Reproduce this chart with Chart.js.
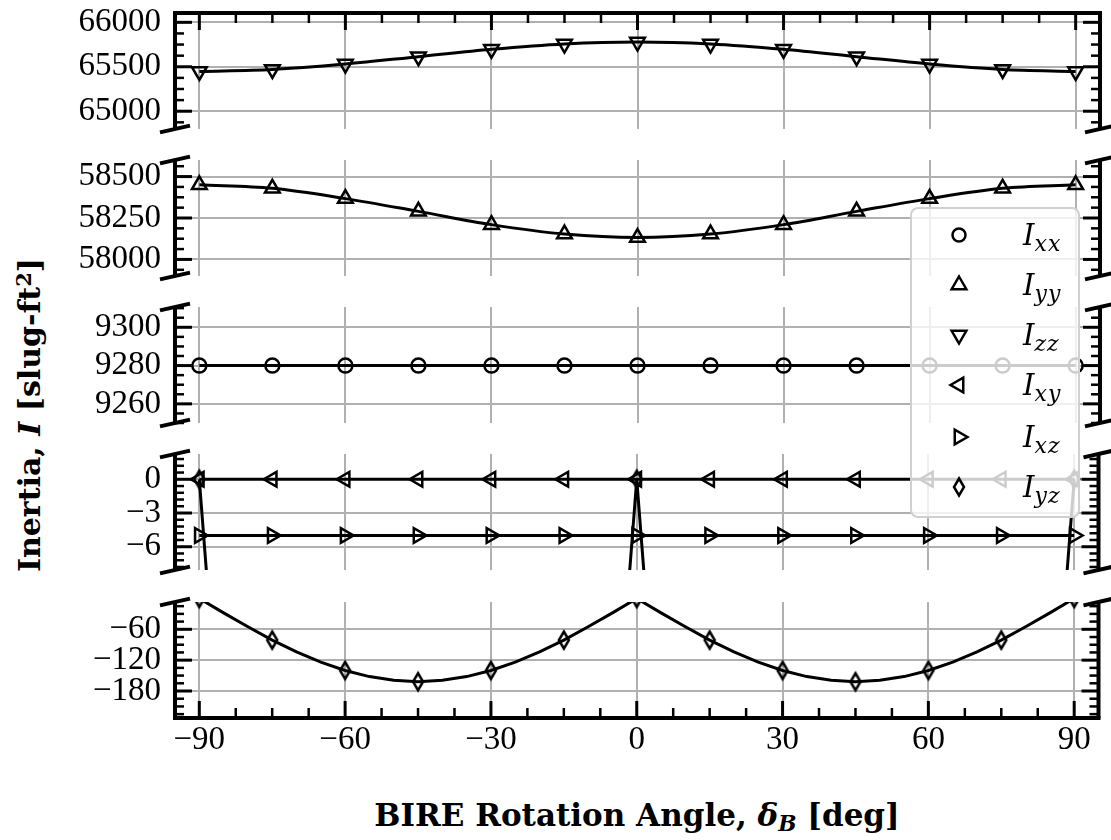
<!DOCTYPE html>
<html>
<head>
<meta charset="utf-8">
<title>Inertia vs BIRE rotation angle</title>
<script src="https://cdn.jsdelivr.net/npm/chart.js@4.4.1/dist/chart.umd.min.js"></script>
<style>
  html, body { margin: 0; padding: 0; background: #fff; }
  #fig { position: relative; width: 1111px; height: 840px; overflow: hidden; background: #fff; }
  #fig canvas { position: absolute; left: 0; }
  .axtitle { position: absolute; font-family: "DejaVu Serif", serif; font-weight: bold; font-size: 31px; white-space: nowrap; color: #000; line-height: 1; }
  #xtitle { left: 637px; top: 815px; transform: translate(-50%, -50%); }
  #ytitle { left: 30px; top: 415px; font-size: 30px; transform: translate(-50%, -50%) rotate(-90deg); }
  .axtitle sub { font-size: 0.7em; vertical-align: -0.25em; line-height: 0; }
  .axtitle sup { font-size: 0.7em; vertical-align: 0.45em; line-height: 0; }
  #legend { position: absolute; left: 910px; top: 207px; width: 170px; height: 311px; box-sizing: border-box;
            border: 2px solid #d0d0d0; border-radius: 8px; background: rgba(255,255,255,0.8); z-index: 10; }
  .lrow { position: absolute; left: 0; width: 100%; height: 40px; }
  .lrow svg { position: absolute; left: 33px; top: 6px; }
  .lrow .lab { position: absolute; left: 111px; top: 0; line-height: 40px; font-family: "DejaVu Serif", serif;
               font-style: italic; font-size: 29px; white-space: nowrap; color: #000; }
  .lab sub { font-size: 22px; vertical-align: -6px; line-height: 0; letter-spacing: 1px; }
</style>
</head>
<body>
<div id="fig">
  <div id="legend"></div>
  <div class="axtitle" id="xtitle">BIRE Rotation Angle, <i>&delta;<sub>B</sub></i> [deg]</div>
  <div class="axtitle" id="ytitle">Inertia, <i>I</i> [slug-ft<sup>2</sup>]</div>
</div>
<script>
// valeurs
const angles = [-90, -75, -60, -45, -30, -15, 0, 15, 30, 45, 60, 75, 90];
const Ixx = [9280, 9280, 9280, 9280, 9280, 9280, 9280, 9280, 9280, 9280, 9280, 9280, 9280];
const Iyy = [58450, 58429, 58367, 58290, 58210, 58153, 58132, 58153, 58210, 58290, 58367, 58429, 58450];
const Izz = [65448, 65470, 65531, 65613, 65696, 65756, 65778, 65756, 65696, 65613, 65531, 65470, 65448];
const Ixy = [0, 0, 0, 0, 0, 0, 0, 0, 0, 0, 0, 0, 0];
const Ixz = [-5, -5, -5, -5, -5, -5, -5, -5, -5, -5, -5, -5, -5];
const Iyz = [0, -81, -140, -162, -140, -81, 0, -81, -140, -162, -140, -81, 0];

// courbe Iyz plus fine (la ligne a des pointes a 0 et +-90)
const anglesFine = [-90, -85, -80, -75, -70, -65, -60, -55, -50, -45, -40, -35, -30, -25, -20, -15, -10, -5, 0,
                    5, 10, 15, 20, 25, 30, 35, 40, 45, 50, 55, 60, 65, 70, 75, 80, 85, 90];
const IyzFine = [0, -28, -55, -81, -104, -124, -140, -152, -159, -162, -159, -152, -140, -124, -104, -81, -55, -28, 0,
                 -28, -55, -81, -104, -124, -140, -152, -159, -162, -159, -152, -140, -124, -104, -81, -55, -28, 0];

const legendSubs = ['xx', 'yy', 'zz', 'xy', 'xz', 'yz'];

// series visibles dans chaque panneau (de haut en bas)
const panelSeries = [['Izz'], ['Iyy'], ['Ixx'], ['Ixy', 'Ixz', 'Iyz line', 'Iyz'], ['Iyz line', 'Iyz']];

// axes
const xTicks = [-90, -60, -30, 0, 30, 60, 90];
const yTicksPanels = [
  [65000, 65500, 66000],
  [58000, 58250, 58500],
  [9260, 9280, 9300],
  [-6, -3, 0],
  [-180, -120, -60]
];
const yMins = [64800, 57900, 9250, -8.07, -232.5];
const yMaxs = [66105, 58600, 9310.6, 2.25, -6.9];
const yMinorSteps = [125, 62.5, 5, 0.6, 15];
const xMinorStep = 7.5;

const W = 1111, LEFT = 175, RIGHT = 1100, PANEL_H = 116;
const panelTops = [13, 160, 307, 454, 602];
const GRID = '#b0b0b0';
const TICK_FONT = { family: "'Liberation Serif', serif", size: 33 };

const fmt = v => (v < 0 ? '\u2212' + Math.abs(v) : String(v));
const pairs = (xs, ys) => xs.map((x, i) => ({ x: x, y: ys[i] }));

function minorValues(min, max, step, majors) {
  const out = [];
  for (let k = Math.ceil(min / step - 1e-9); k * step <= max + 1e-9; k++) {
    const v = k * step;
    if (!majors.some(m => Math.abs(m - v) < step * 1e-3)) out.push(v);
  }
  return out;
}

function seg(ctx, x1, y1, x2, y2) {
  ctx.beginPath();
  ctx.moveTo(x1, y1);
  ctx.lineTo(x2, y2);
  ctx.stroke();
}

function makeDiamond() {
  const c = document.createElement('canvas');
  c.width = 16; c.height = 28;
  const g = c.getContext('2d');
  g.strokeStyle = '#000';
  g.lineWidth = 2.5;
  g.beginPath();
  g.moveTo(8, 5.5); g.lineTo(13, 14); g.lineTo(8, 22.5); g.lineTo(3, 14);
  g.closePath();
  g.stroke();
  return c;
}
const diamondImg = makeDiamond();

function buildDatasets(k) {
  const base = {
    borderColor: '#000', borderWidth: 3, pointBorderColor: '#000',
    pointBackgroundColor: 'rgba(0,0,0,0)', pointBorderWidth: 2.5, clip: 0,
    cubicInterpolationMode: 'monotone'
  };
  const all = [
    { ...base, label: 'Iyz', data: pairs(angles, Iyz), showLine: false, pointStyle: diamondImg, pointRadius: 10 },
    { ...base, label: 'Iyz line', data: pairs(anglesFine, IyzFine), pointRadius: 0, cubicInterpolationMode: 'default', tension: 0 },
    { ...base, label: 'Ixx', data: pairs(angles, Ixx), pointStyle: 'circle', pointRadius: 7 },
    { ...base, label: 'Iyy', data: pairs(angles, Iyy), pointStyle: 'triangle', pointRadius: 8.5, pointRotation: 0 },
    { ...base, label: 'Izz', data: pairs(angles, Izz), pointStyle: 'triangle', pointRadius: 8.5, pointRotation: 180 },
    { ...base, label: 'Ixy', data: pairs(angles, Ixy), pointStyle: 'triangle', pointRadius: 8.5, pointRotation: -90 },
    { ...base, label: 'Ixz', data: pairs(angles, Ixz), pointStyle: 'triangle', pointRadius: 8.5, pointRotation: 90 }
  ];
  return all.filter(d => panelSeries[k].includes(d.label));
}

// cadre, graduations et marques de coupure
function framePlugin(k, last) {
  return {
    id: 'frame' + k,
    afterDraw(chart) {
      const ctx = chart.ctx, a = chart.chartArea;
      const xs = chart.scales.x, ys = chart.scales.y;
      ctx.save();
      ctx.strokeStyle = '#000';
      ctx.lineCap = 'butt';

      ctx.lineWidth = 4;
      seg(ctx, a.left, a.top, a.left, a.bottom);
      seg(ctx, a.right, a.top, a.right, a.bottom);
      if (k === 0) seg(ctx, a.left - 2, a.top, a.right + 2, a.top);
      if (last) seg(ctx, a.left - 2, a.bottom, a.right + 2, a.bottom);

      const majY = yTicksPanels[k];
      ctx.lineWidth = 3;
      majY.forEach(v => {
        const p = ys.getPixelForValue(v);
        seg(ctx, a.left, p, a.left + 17, p);
        seg(ctx, a.right - 17, p, a.right, p);
      });
      ctx.lineWidth = 2.5;
      minorValues(yMins[k], yMaxs[k], yMinorSteps[k], majY).forEach(v => {
        const p = ys.getPixelForValue(v);
        seg(ctx, a.left, p, a.left + 9, p);
        seg(ctx, a.right - 9, p, a.right, p);
      });

      if (k === 0 || last) {
        const y0 = k === 0 ? a.top : a.bottom;
        const dir = k === 0 ? 1 : -1;
        ctx.lineWidth = 3;
        xTicks.forEach(v => {
          const p = xs.getPixelForValue(v);
          seg(ctx, p, y0, p, y0 + dir * 17);
        });
        ctx.lineWidth = 2.5;
        minorValues(xs.min, xs.max, xMinorStep, xTicks).forEach(v => {
          const p = xs.getPixelForValue(v);
          seg(ctx, p, y0, p, y0 + dir * 10);
        });
      }

      ctx.lineWidth = 4;
      [a.left, a.right].forEach(X => {
        if (k > 0) seg(ctx, X - 15, a.top + 3.4, X + 15, a.top - 3.4);
        if (!last) seg(ctx, X - 15, a.bottom + 3.4, X + 15, a.bottom - 3.4);
      });
      ctx.restore();
    }
  };
}

const fig = document.getElementById('fig');
panelTops.forEach((top, k) => {
  const last = k === panelTops.length - 1;
  const mTop = 13, mBot = last ? 80 : 13;
  const cv = document.createElement('canvas');
  cv.width = W;
  cv.height = PANEL_H + mTop + mBot;
  cv.style.width = W + 'px';
  cv.style.height = cv.height + 'px';
  cv.style.top = (top - mTop) + 'px';
  fig.appendChild(cv);

  new Chart(cv, {
    type: 'line',
    data: { datasets: buildDatasets(k) },
    options: {
      responsive: false,
      animation: false,
      devicePixelRatio: 1,
      events: [],
      layout: { padding: { top: mTop, right: W - RIGHT, bottom: 0, left: 0 } },
      plugins: { legend: { display: false }, tooltip: { enabled: false } },
      scales: {
        x: {
          type: 'linear', min: -95, max: 95,
          afterBuildTicks: s => { s.ticks = xTicks.map(v => ({ value: v })); },
          afterFit: s => { s.height = mBot; s.paddingLeft = 0; s.paddingRight = 0; },
          grid: { color: GRID, lineWidth: 2, drawTicks: false },
          border: { display: false },
          ticks: { display: last, autoSkip: false, maxRotation: 0, padding: 3, color: '#000', font: TICK_FONT, callback: fmt }
        },
        y: {
          type: 'linear', min: yMins[k], max: yMaxs[k],
          afterBuildTicks: s => { s.ticks = yTicksPanels[k].map(v => ({ value: v })); },
          afterFit: s => { s.width = LEFT; s.paddingTop = 0; s.paddingBottom = 0; },
          grid: { color: GRID, lineWidth: 2, drawTicks: false },
          border: { display: false },
          ticks: { autoSkip: false, padding: 14, color: '#000', font: TICK_FONT, callback: fmt }
        }
      }
    },
    plugins: [framePlugin(k, last)]
  });
});

// legende (par-dessus les panneaux, fond semi-transparent)
const shapes = [
  '<circle cx="14" cy="14" r="6.5"/>',
  '<polygon points="14,5.5 21.36,18.25 6.64,18.25"/>',
  '<polygon points="14,22.5 21.36,9.75 6.64,9.75"/>',
  '<polygon points="5.5,14 18.25,6.64 18.25,21.36"/>',
  '<polygon points="22.5,14 9.75,6.64 9.75,21.36"/>',
  '<polygon points="14,5.5 19,14 14,22.5 9,14"/>'
];
const rowCenters = [26, 76, 126, 176, 228, 278];
const legend = document.getElementById('legend');
legendSubs.forEach((s, i) => {
  const row = document.createElement('div');
  row.className = 'lrow';
  row.style.top = (rowCenters[i] - 20) + 'px';
  row.innerHTML = '<svg width="28" height="28" viewBox="0 0 28 28" fill="none" stroke="#000" stroke-width="2.5">' +
    shapes[i] + '</svg><span class="lab">I<sub>' + s + '</sub></span>';
  legend.appendChild(row);
});
</script>
</body>
</html>
